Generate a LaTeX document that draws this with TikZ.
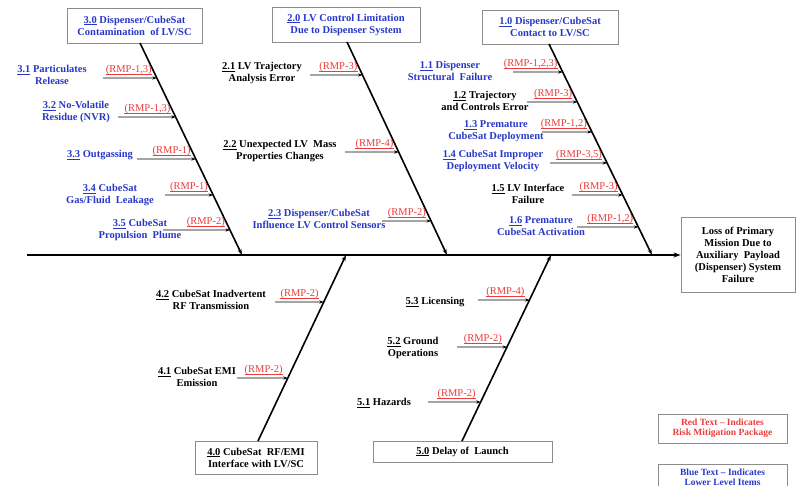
\documentclass[tikz,border=0pt]{standalone}
\usepackage{fontspec}
\setmainfont{Liberation Serif}
\usetikzlibrary{arrows.meta,calc}
\definecolor{cblue}{RGB}{40,55,200}
\definecolor{cred}{RGB}{235,60,60}
\definecolor{cgrey}{RGB}{140,140,140}
\tikzset{
  lbl/.style={font=\fontsize{10.5}{12}\selectfont\bfseries, align=center, inner sep=0pt},
  bl/.style={lbl, text=cblue},
  bk/.style={lbl, text=black},
  rmp/.style={font=\fontsize{10.5}{12}\selectfont, text=cred, inner sep=0pt, anchor=base east},
  rmpline/.style={draw=cred, line width=0.6pt},
  catbox/.style={lbl, draw=cgrey, line width=0.9pt},
  legbox/.style={catbox, font=\fontsize{9.5}{10.5}\selectfont\bfseries},
  bone/.style={line width=1.6pt, -{Stealth[length=6pt,width=4pt]}},
  spine/.style={line width=1.8pt, -{Stealth[length=7pt,width=5pt]}},
  subarr/.style={line width=0.9pt, -{Stealth[length=4.5pt,width=3.2pt]}},
}
% #1 name, #2 bone, #3 start x, #4 y, #5 red label
\newcommand\subarrow[5]{%
  \coordinate (#1s) at (#3,#4);
  \coordinate (#1e) at (intersection of #2a--#2b and #3,#4--800,#4);
  \draw[subarr] (#1s) -- (#1e);
  \node[rmp] (#1r) at ($(#1e)+(-5,-5.5)$) {#5};
  \draw[rmpline] ($(#1r.base west)+(0,1.4)$) -- ($(#1r.base east)+(0,1.4)$);}
\begin{document}
\begin{tikzpicture}[x=1pt,y=-1pt]
\useasboundingbox (0,0) rectangle (798,486);
% category boxes
\node[catbox, text=cblue, minimum width=135pt, minimum height=35pt] (c3) at (134.5,25.5) {\underline{3.0} Dispenser/CubeSat\\Contamination\ \ of LV/SC};
\node[catbox, text=cblue, minimum width=148pt, minimum height=35pt] (c2) at (346,24.5) {\underline{2.0} LV Control Limitation\\Due to Dispenser System};
\node[catbox, text=cblue, minimum width=136pt, minimum height=34pt] (c1) at (550,27) {\underline{1.0} Dispenser/CubeSat\\Contact to LV/SC};
\node[catbox, minimum width=122pt, minimum height=33pt] (c4) at (256,457.5) {\underline{4.0} CubeSat\ \ RF/EMI\\Interface with LV/SC};
\node[catbox, minimum width=179pt, minimum height=21pt] (c5) at (462.5,451.5) {\underline{5.0} Delay of\ \ Launch};
\node[catbox, minimum width=114pt, minimum height=75pt] (eff) at (738,255) {Loss of Primary\\Mission Due to\\Auxiliary\ \ Payload\\(Dispenser) System\\Failure};
% legend
\node[legbox, text=cred, minimum width=129pt, minimum height=29pt] (leg1) at (722.5,428.5) {Red Text -- Indicates\\Risk Mitigation Package};
\node[legbox, text=cblue, minimum width=129pt, minimum height=26pt] (leg2) at (722.5,477) {Blue Text -- Indicates\\Lower Level Items};
% spine
\coordinate (sp0) at (27,255);
\draw[spine] (sp0) -- (eff.west |- sp0);
% bones
\coordinate (b3a) at (140,43);  \coordinate (b3b) at (242,255);
\coordinate (b2a) at (347,42);  \coordinate (b2b) at (447,255);
\coordinate (b1a) at (549,44);  \coordinate (b1b) at (652,255);
\coordinate (b4a) at (258,441); \coordinate (b4b) at (346,255);
\coordinate (b5a) at (462,441); \coordinate (b5b) at (551,255);
\draw[bone] (b3a) -- (b3b);
\draw[bone] (b2a) -- (b2b);
\draw[bone] (b1a) -- (b1b);
\draw[bone] (b4a) -- (b4b);
\draw[bone] (b5a) -- (b5b);
% bone 3
\node[bl] (t31) at (52,75) {\underline{3.1} Particulates\\Release};
\subarrow{a31}{b3}{103}{78}{(RMP-1,3)}
\node[bl] (t32) at (76,112) {\underline{3.2} No-Volatile\\Residue (NVR)};
\subarrow{a32}{b3}{118}{117}{(RMP-1,3)}
\node[bl] (t33) at (100,155) {\underline{3.3} Outgassing};
\subarrow{a33}{b3}{137}{159}{(RMP-1)}
\node[bl] (t34) at (110,195) {\underline{3.4} CubeSat\\Gas/Fluid\ \ Leakage};
\subarrow{a34}{b3}{165}{195}{(RMP-1)}
\node[bl] (t35) at (140,230) {\underline{3.5} CubeSat\\Propulsion\ \ Plume};
\subarrow{a35}{b3}{163}{230}{(RMP-2)}
% bone 2
\node[bk] (t21) at (262,73) {\underline{2.1} LV Trajectory\\Analysis Error};
\subarrow{a21}{b2}{310}{75}{(RMP-3)}
\node[bk] (t22) at (280,151) {\underline{2.2} Unexpected LV\ \ Mass\\Properties Changes};
\subarrow{a22}{b2}{345}{152}{(RMP-4)}
\node[bl] (t23) at (319,219) {\underline{2.3} Dispenser/CubeSat\\Influence LV Control Sensors};
\subarrow{a23}{b2}{382}{221}{(RMP-2)}
% bone 1
\node[bl] (t11) at (450,71) {\underline{1.1} Dispenser\\Structural\ \ Failure};
\subarrow{a11}{b1}{513}{72}{(RMP-1,2,3)}
\node[bk] (t12) at (485,101) {\underline{1.2} Trajectory\\and Controls Error};
\subarrow{a12}{b1}{527}{102}{(RMP-3)}
\node[bl] (t13) at (496,131) {\underline{1.3} Premature\\CubeSat Deployment};
\subarrow{a13}{b1}{542}{132}{(RMP-1,2)}
\node[bl] (t14) at (493,161) {\underline{1.4} CubeSat Improper\\Deployment Velocity};
\subarrow{a14}{b1}{550}{163}{(RMP-3,5)}
\node[bk] (t15) at (528,194) {\underline{1.5} LV Interface\\Failure};
\subarrow{a15}{b1}{572}{195}{(RMP-3)}
\node[bl] (t16) at (541,226) {\underline{1.6} Premature\\CubeSat Activation};
\subarrow{a16}{b1}{577}{227}{(RMP-1,2)}
% bone 4
\node[bk] (t42) at (211,300) {\underline{4.2} CubeSat Inadvertent\\RF Transmission};
\subarrow{a42}{b4}{275}{302}{(RMP-2)}
\node[bk] (t41) at (197,377) {\underline{4.1} CubeSat EMI\\Emission};
\subarrow{a41}{b4}{237}{378}{(RMP-2)}
% bone 5
\node[bk] (t53) at (435,302) {\underline{5.3} Licensing};
\subarrow{a53}{b5}{478}{300}{(RMP-4)}
\node[bk] (t52) at (413,348) {\underline{5.2} Ground\\Operations};
\subarrow{a52}{b5}{457}{347}{(RMP-2)}
\node[bk] (t51) at (384,403) {\underline{5.1} Hazards};
\subarrow{a51}{b5}{428}{402}{(RMP-2)}
\end{tikzpicture}
\end{document}
